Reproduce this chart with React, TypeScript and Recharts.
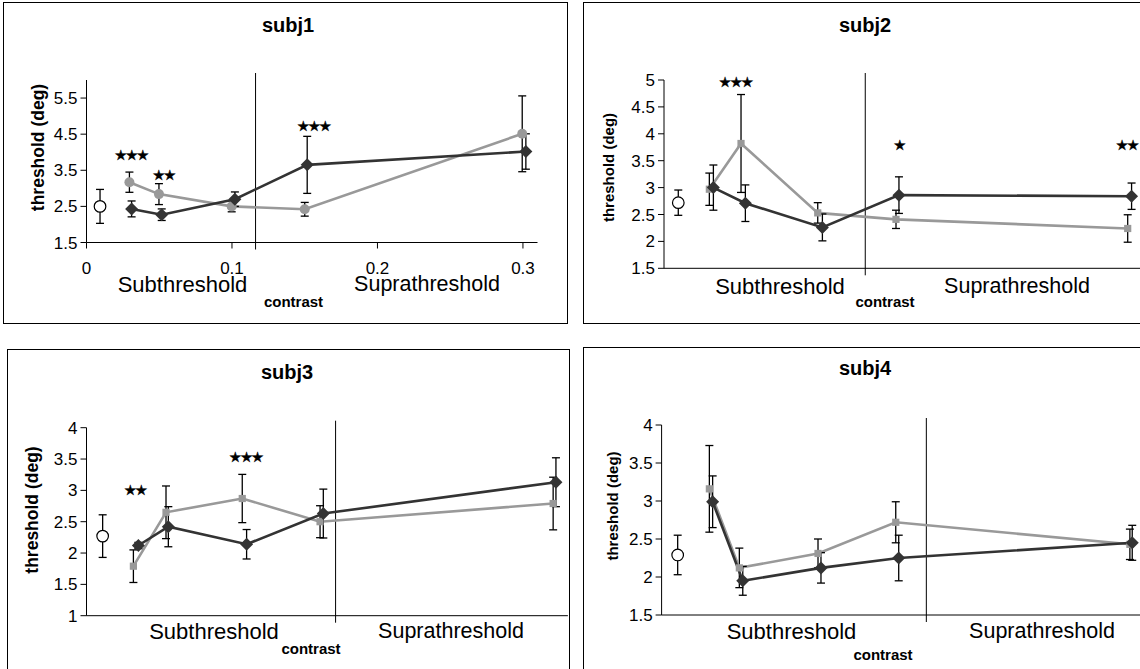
import React from "react";
import { ComposedChart, Line, XAxis, YAxis, ErrorBar, ReferenceLine, ReferenceDot } from "recharts";

const FONT = '"Liberation Sans", Arial, sans-serif';
const GRAY = "#999999";
const DARK = "#333333";

// contrast axis (only labelled on subj1)
const contrastTicks = [0, 0.1, 0.2, 0.3];
const contrastMax = 0.31;

// baseline (open circle) per subject: subj1..subj4
const baseX = [0.0093, 0.0092, 0.0104, 0.0103];
const baseY = [2.5, 2.72, 2.27, 2.29];
const baseErr = [0.47, 0.235, 0.34, 0.26];

// boundary between sub- and suprathreshold
const dividers = [0.1162, 0.1296, 0.1604, 0.1696];

// subj1
const s1GrayX = [0.0295, 0.0498, 0.0998, 0.15, 0.2995];
const s1GrayY = [3.17, 2.84, 2.5, 2.42, 4.51];
const s1GrayErr = [0.28, 0.29, 0.15, 0.19, 1.05];
const s1BlackX = [0.031, 0.0517, 0.102, 0.1517, 0.302];
const s1BlackY = [2.43, 2.27, 2.7, 3.65, 4.02];
const s1BlackErr = [0.22, 0.16, 0.2, 0.79, 0.49];
const s1Ticks = [1.5, 2.5, 3.5, 4.5, 5.5];
const s1Stars = [
  { x: 0.0306, y: 3.91, text: "★★★" },
  { x: 0.053, y: 3.37, text: "★★" },
  { x: 0.156, y: 4.72, text: "★★★" },
];

// subj2
const s2GrayX = [0.0292, 0.0496, 0.099, 0.1494, 0.2986];
const s2GrayY = [2.97, 3.82, 2.53, 2.41, 2.24];
const s2GrayErr = [0.3, 0.91, 0.19, 0.17, 0.255];
const s2BlackX = [0.0318, 0.0524, 0.102, 0.1513, 0.3011];
const s2BlackY = [3.0, 2.71, 2.26, 2.86, 2.84];
const s2BlackErr = [0.42, 0.34, 0.25, 0.34, 0.245];
const s2Ticks = [1.5, 2, 2.5, 3, 3.5, 4, 4.5, 5];
const s2Stars = [
  { x: 0.046, y: 4.97, text: "★★★" },
  { x: 0.1513, y: 3.79, text: "★" },
  { x: 0.298, y: 3.79, text: "★★" },
];

// subj3
const s3GrayX = [0.0302, 0.0512, 0.1003, 0.1504, 0.3005];
const s3GrayY = [1.79, 2.65, 2.87, 2.5, 2.79];
const s3GrayErr = [0.26, 0.42, 0.385, 0.255, 0.42];
const s3BlackX = [0.0334, 0.0527, 0.1031, 0.1525, 0.3023];
const s3BlackY = [2.12, 2.42, 2.14, 2.63, 3.13];
const s3BlackErr = [0.05, 0.32, 0.235, 0.39, 0.39];
const s3Ticks = [1, 1.5, 2, 2.5, 3, 3.5, 4];
const s3Stars = [
  { x: 0.0312, y: 3.0, text: "★★" },
  { x: 0.1025, y: 3.54, text: "★★★" },
];

// subj4
const s4GrayX = [0.0306, 0.0498, 0.1002, 0.15, 0.3];
const s4GrayY = [3.16, 2.12, 2.31, 2.72, 2.43];
const s4GrayErr = [0.57, 0.26, 0.19, 0.27, 0.2];
const s4BlackX = [0.0327, 0.052, 0.1021, 0.1519, 0.3015];
const s4BlackY = [2.99, 1.95, 2.12, 2.25, 2.45];
const s4BlackErr = [0.34, 0.19, 0.2, 0.3, 0.23];
const s4Ticks = [1.5, 2, 2.5, 3, 3.5, 4];

type Pt = { x: number; y: number; e: number };
type Star = { x: number; y: number; text: string };

const pts = (xs: number[], ys: number[], es: number[]): Pt[] =>
  xs.map((x, i) => ({ x, y: ys[i], e: es[i] }));

const diamond = (p: any) => {
  const s = 6.5;
  return (
    <path
      key={"d" + p.index}
      d={`M${p.cx},${p.cy - s}L${p.cx + s},${p.cy}L${p.cx},${p.cy + s}L${p.cx - s},${p.cy}Z`}
      fill={DARK}
    />
  );
};
const grayCircle = (p: any) => <circle key={"c" + p.index} cx={p.cx} cy={p.cy} r={5} fill={GRAY} />;
const graySquare = (p: any) => (
  <rect key={"s" + p.index} x={p.cx - 3.6} y={p.cy - 3.6} width={7.2} height={7.2} fill={GRAY} />
);
const openCircle = (p: any) => (
  <circle key={"o" + p.index} cx={p.cx} cy={p.cy} r={5.8} fill="#fff" stroke="#000" strokeWidth={1.2} />
);

type PanelProps = {
  idx: number;
  title: string;
  left: number;
  top: number;
  width: number;
  height: number;
  margin: { top: number; right: number; bottom: number; left: number };
  yWidth: number;
  xHeight: number;
  yDomain: [number, number];
  yTicks: number[];
  showX: boolean;
  gray: Pt[];
  black: Pt[];
  grayShape: "circle" | "square";
  stars: Star[];
  text: {
    title: [number, number];
    ylab: [number, number, number];
    sub: [number, number];
    supra: [number, number];
    contrast: [number, number];
  };
};

function Panel(p: PanelProps) {
  const base: Pt[] = [{ x: baseX[p.idx], y: baseY[p.idx], e: baseErr[p.idx] }];
  return (
    <>
      <div
        style={{
          position: "absolute",
          left: p.left,
          top: p.top,
          width: p.width,
          height: p.height,
          border: "1px solid #000",
          boxSizing: "border-box",
        }}
      />
      <div style={{ position: "absolute", left: p.left, top: p.top }}>
        <ComposedChart width={p.width} height={p.height} margin={p.margin}>
          <XAxis
            type="number"
            dataKey="x"
            domain={[0, contrastMax]}
            ticks={p.showX ? contrastTicks : []}
            tick={p.showX ? { fill: "#000", fontSize: 17, fontFamily: FONT } : false}
            tickLine={p.showX ? { stroke: "#000" } : false}
            tickSize={6}
            tickMargin={13}
            interval={0}
            height={p.xHeight}
            axisLine={{ stroke: "#000" }}
            allowDataOverflow
          />
          <YAxis
            type="number"
            dataKey="y"
            domain={p.yDomain}
            ticks={p.yTicks}
            interval={0}
            width={p.yWidth}
            tickSize={6}
            tickMargin={3}
            tick={{ fill: "#000", fontSize: 17, fontFamily: FONT }}
            tickLine={{ stroke: "#000" }}
            axisLine={{ stroke: "#000" }}
            allowDataOverflow
          />
          <ReferenceLine
            x={dividers[p.idx]}
            stroke="#000"
            shape={(q: any) => {
              const y1 = Math.min(q.y1, q.y2) - 7;
              const y2 = Math.max(q.y1, q.y2) + 7;
              return <line x1={q.x1} x2={q.x2} y1={y1} y2={y2} stroke="#000" strokeWidth={1} />;
            }}
          />
          <Line data={base} dataKey="y" stroke="none" dot={openCircle} activeDot={false} isAnimationActive={false}>
            <ErrorBar dataKey="e" width={4} stroke="#000" strokeWidth={1.3} direction="y" isAnimationActive={false} />
          </Line>
          <Line
            data={p.gray}
            dataKey="y"
            stroke={GRAY}
            strokeWidth={2.6}
            dot={p.grayShape === "circle" ? grayCircle : graySquare}
            activeDot={false}
            isAnimationActive={false}
          >
            <ErrorBar dataKey="e" width={4} stroke="#000" strokeWidth={1.3} direction="y" isAnimationActive={false} />
          </Line>
          <Line
            data={p.black}
            dataKey="y"
            stroke={DARK}
            strokeWidth={2.6}
            dot={diamond}
            activeDot={false}
            isAnimationActive={false}
          >
            <ErrorBar dataKey="e" width={4} stroke="#000" strokeWidth={1.3} direction="y" isAnimationActive={false} />
          </Line>
          {p.stars.map((s, i) => (
            <ReferenceDot
              key={i}
              x={s.x}
              y={s.y}
              r={0}
              shape={(q: any) => (
                <text
                  x={q.cx}
                  y={q.cy}
                  textAnchor="middle"
                  dominantBaseline="central"
                  fontSize={14}
                  fontFamily="DejaVu Sans"
                  letterSpacing={-1.5}
                  fill="#000"
                  stroke="#000"
                  strokeWidth={0.4}
                >
                  {s.text}
                </text>
              )}
            />
          ))}
        </ComposedChart>
      </div>
    </>
  );
}

const panels: PanelProps[] = [
  {
    idx: 0,
    title: "subj1",
    left: 3,
    top: 2,
    width: 565,
    height: 322,
    margin: { top: 78, right: 30.5, bottom: 51.5, left: 0 },
    yWidth: 83.5,
    xHeight: 30,
    yDomain: [1.5, 6],
    yTicks: s1Ticks,
    showX: true,
    gray: pts(s1GrayX, s1GrayY, s1GrayErr),
    black: pts(s1BlackX, s1BlackY, s1BlackErr),
    grayShape: "circle",
    stars: s1Stars,
    text: { title: [288, 25], ylab: [38, 147.5, 17.5], sub: [182.5, 284], supra: [427, 284], contrast: [293.5, 301] },
  },
  {
    idx: 1,
    title: "subj2",
    left: 583,
    top: 2,
    width: 575,
    height: 322,
    margin: { top: 78, right: 12.6, bottom: 54.7, left: 0 },
    yWidth: 81,
    xHeight: 1,
    yDomain: [1.5, 5],
    yTicks: s2Ticks,
    showX: false,
    gray: pts(s2GrayX, s2GrayY, s2GrayErr),
    black: pts(s2BlackX, s2BlackY, s2BlackErr),
    grayShape: "square",
    stars: s2Stars,
    text: { title: [865, 25], ylab: [608, 167.5, 15], sub: [780, 286], supra: [1017, 286], contrast: [885, 301] },
  },
  {
    idx: 2,
    title: "subj3",
    left: 7,
    top: 349,
    width: 563,
    height: 330,
    margin: { top: 78.7, right: 2.1, bottom: 62.3, left: 0 },
    yWidth: 79.5,
    xHeight: 1,
    yDomain: [1, 4],
    yTicks: s3Ticks,
    showX: false,
    gray: pts(s3GrayX, s3GrayY, s3GrayErr),
    black: pts(s3BlackX, s3BlackY, s3BlackErr),
    grayShape: "square",
    stars: s3Stars,
    text: { title: [287, 372], ylab: [32, 510, 17.5], sub: [214, 631], supra: [451, 631], contrast: [311, 648] },
  },
  {
    idx: 3,
    title: "subj4",
    left: 583,
    top: 347,
    width: 575,
    height: 330,
    margin: { top: 78, right: 12.5, bottom: 61, left: 0 },
    yWidth: 78.6,
    xHeight: 1,
    yDomain: [1.5, 4],
    yTicks: s4Ticks,
    showX: false,
    gray: pts(s4GrayX, s4GrayY, s4GrayErr),
    black: pts(s4BlackX, s4BlackY, s4BlackErr),
    grayShape: "square",
    stars: [],
    text: { title: [865, 368], ylab: [612, 506, 15], sub: [791.5, 631], supra: [1042, 631], contrast: [883, 654] },
  },
];

export default function App() {
  return (
    <div
      style={{
        position: "absolute",
        left: 0,
        top: 0,
        width: 1140,
        height: 669,
        overflow: "hidden",
        background: "#fff",
        fontFamily: FONT,
      }}
    >
      {panels.map((p) => (
        <Panel key={p.title} {...p} />
      ))}
      <svg
        width={1140}
        height={669}
        style={{ position: "absolute", left: 0, top: 0, pointerEvents: "none" }}
        fontFamily={FONT}
      >
        {panels.map((p) => (
          <g key={p.title}>
            <text x={p.text.title[0]} y={p.text.title[1]} textAnchor="middle" dominantBaseline="central" fontSize={20} fontWeight="bold">
              {p.title}
            </text>
            <text
              x={p.text.ylab[0]}
              y={p.text.ylab[1]}
              textAnchor="middle"
              dominantBaseline="central"
              fontSize={p.text.ylab[2]}
              fontWeight="bold"
              transform={`rotate(-90 ${p.text.ylab[0]} ${p.text.ylab[1]})`}
            >
              threshold (deg)
            </text>
            <text x={p.text.sub[0]} y={p.text.sub[1]} textAnchor="middle" dominantBaseline="central" fontSize={22}>
              Subthreshold
            </text>
            <text x={p.text.supra[0]} y={p.text.supra[1]} textAnchor="middle" dominantBaseline="central" fontSize={21.5}>
              Suprathreshold
            </text>
            <text x={p.text.contrast[0]} y={p.text.contrast[1]} textAnchor="middle" dominantBaseline="central" fontSize={15} fontWeight="bold">
              contrast
            </text>
          </g>
        ))}
      </svg>
    </div>
  );
}
